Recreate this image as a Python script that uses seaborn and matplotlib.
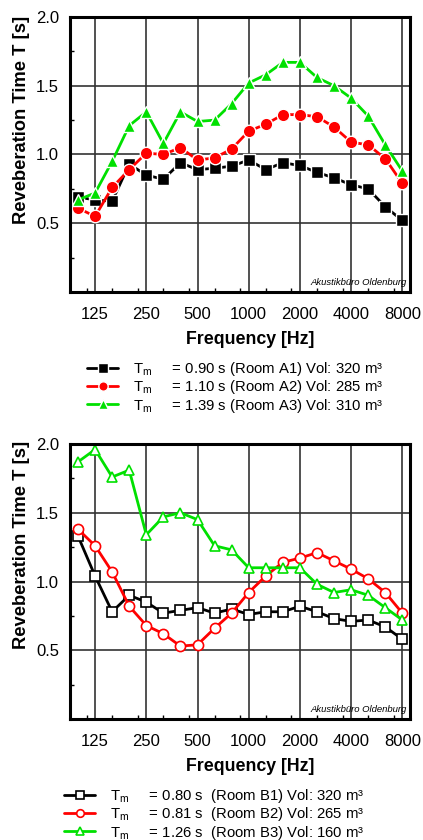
import numpy as np
import pandas as pd
import matplotlib
matplotlib.use("Agg")
import matplotlib.pyplot as plt
import seaborn as sns
from matplotlib.ticker import FixedLocator

sns.set_theme(style="white")
plt.rcParams['font.family'] = ['Liberation Sans', 'DejaVu Sans']
plt.rcParams['mathtext.fontset'] = 'custom'
plt.rcParams['mathtext.rm'] = 'Liberation Sans'

# ---------------- data ----------------
freqs = [100, 125, 160, 200, 250, 315, 400, 500, 630, 800, 1000,
         1250, 1600, 2000, 2500, 3150, 4000, 5000, 6300, 8000]
tick_labels = ["125", "250", "500", "1000", "2000", "4000", "8000"]
tick_freqs = [125, 250, 500, 1000, 2000, 4000, 8000]

room_a1 = [0.69, 0.67, 0.66, 0.93, 0.85, 0.82, 0.94, 0.89, 0.90, 0.915,
           0.96, 0.89, 0.94, 0.92, 0.87, 0.83, 0.78, 0.75, 0.62, 0.52]
room_a2 = [0.61, 0.55, 0.76, 0.89, 1.01, 1.00, 1.05, 0.96, 0.975, 1.04,
           1.17, 1.22, 1.29, 1.29, 1.275, 1.20, 1.09, 1.07, 0.97, 0.79]
room_a3 = [0.67, 0.72, 0.95, 1.21, 1.31, 1.08, 1.31, 1.24, 1.25, 1.37,
           1.52, 1.58, 1.67, 1.67, 1.56, 1.50, 1.41, 1.28, 1.07, 0.88]

room_b1 = [1.33, 1.04, 0.78, 0.90, 0.85, 0.77, 0.79, 0.81, 0.77, 0.80,
           0.76, 0.78, 0.78, 0.82, 0.78, 0.73, 0.71, 0.72, 0.67, 0.58]
room_b2 = [1.38, 1.26, 1.07, 0.82, 0.68, 0.62, 0.53, 0.54, 0.66, 0.77,
           0.92, 1.04, 1.14, 1.17, 1.21, 1.15, 1.09, 1.02, 0.92, 0.77]
room_b3 = [1.87, 1.96, 1.76, 1.81, 1.34, 1.47, 1.50, 1.45, 1.26, 1.23,
           1.10, 1.10, 1.10, 1.10, 0.98, 0.92, 0.94, 0.90, 0.81, 0.72]

labels_a = ["= 0.90 s (Room A1) Vol: 320 m³",
            "= 1.10 s (Room A2) Vol: 285 m³",
            "= 1.39 s (Room A3) Vol: 310 m³"]
labels_b = ["= 0.80 s  (Room B1) Vol: 320 m³",
            "= 0.81 s  (Room B2) Vol: 265 m³",
            "= 1.26 s  (Room B3) Vol: 160 m³"]

colors = ["#000000", "#ff0000", "#00e000"]
marker_list = ["s", "o", "^"]

W, H = 423, 840
fig = plt.figure(figsize=(W / 100, H / 100), dpi=100)


def make_df(series, labels):
    rows = []
    for s, lab in zip(series, labels):
        for i, v in enumerate(s):
            rows.append({"idx": i, "freq": freqs[i], "T": v, "room": lab})
    return pd.DataFrame(rows)


def axes_box(top_px, bottom_px, left_px=70, right_px=410):
    return [left_px / W, 1 - bottom_px / H, (right_px - left_px) / W,
            (bottom_px - top_px) / H]


def draw(ax, series, labels, hollow, legend_x, legend_y, ylabel_center_px,
         top_px, bottom_px):
    df = make_df(series, labels)
    if hollow:
        kw = dict(markersize=7.3, markeredgewidth=1.2, linewidth=2.0,
                  markerfacecolor="white")
    else:
        kw = dict(markersize=9, markeredgewidth=1.0, linewidth=2.0)
    sns.lineplot(data=df, x="idx", y="T", hue="room", style="room",
                 palette=dict(zip(labels, colors)),
                 markers=dict(zip(labels, marker_list)), dashes=False,
                 ax=ax, legend=False, **kw)
    lines = ax.get_lines()[:3]
    for ln, c in zip(lines, colors):
        if hollow:
            ln.set_markeredgecolor(c)
        else:
            ln.set_markeredgecolor("white")
            ln.set_markerfacecolor(c)
    ax.set_xlim(-0.47, 19.45)
    ax.set_ylim(0.0, 2.0)
    major_idx = [freqs.index(f) for f in tick_freqs]
    ax.xaxis.set_major_locator(FixedLocator(major_idx))
    ax.set_xticklabels(tick_labels)
    ax.xaxis.set_minor_locator(FixedLocator([0.5 + 1.5 * k for k in range(13)]))
    ax.yaxis.set_major_locator(FixedLocator([0.5, 1.0, 1.5, 2.0]))
    ax.set_yticklabels(["0.5", "1.0", "1.5", "2.0"])
    ax.yaxis.set_minor_locator(FixedLocator([0.25, 0.75, 1.25, 1.75]))
    ax.tick_params(axis="both", which="major", length=0, labelsize=12,
                   colors="black")
    ax.tick_params(axis="x", which="major", pad=11)
    ax.tick_params(axis="y", which="major", pad=8)
    ax.tick_params(axis="both", which="minor", length=3, direction="in",
                   width=1, colors="black", bottom=True, left=True)
    ax.grid(True, which="major", color="#333333", linewidth=1.2)
    ax.set_axisbelow(True)
    for sp in ax.spines.values():
        sp.set_visible(True)
        sp.set_color("black")
        sp.set_linewidth(2.2)
    ax.set_xlabel("Frequency [Hz]", fontsize=12.8, fontweight="bold",
                  color="black")
    ax.set_ylabel("Reveberation Time T [s]", fontsize=13.2,
                  fontweight="bold", color="black")
    ax.xaxis.set_label_coords((250 - 70) / 340, -39 / 275)
    ax.yaxis.set_label_coords(-(70 - 30) / 340,
                              (bottom_px - ylabel_center_px) / (bottom_px - top_px))
    ax.text(0.99, 0.033, "Akustikbüro Oldenburg", transform=ax.transAxes,
            ha="right", va="center", fontsize=6.8, style="italic",
            color="black")
    leg_labels = [r"$\mathregular{T_m}$" + "     " + l for l in labels]
    leg = fig.legend(lines, leg_labels, loc="upper left",
                     bbox_to_anchor=(legend_x / W, 1 - legend_y / H),
                     frameon=False, fontsize=10.7, handlelength=2.1,
                     handletextpad=1.0, labelspacing=0.02, borderpad=0,
                     borderaxespad=0, markerscale=0.75)
    for t in leg.get_texts():
        t.set_color("black")


ax1 = fig.add_axes(axes_box(17, 292))
draw(ax1, [room_a1, room_a2, room_a3], labels_a, False, 87, 360, 120, 17, 292)
ax2 = fig.add_axes(axes_box(444, 719))
draw(ax2, [room_b1, room_b2, room_b3], labels_b, True, 64, 787, 545, 444, 719)

fig.savefig("out.png", dpi=100)
